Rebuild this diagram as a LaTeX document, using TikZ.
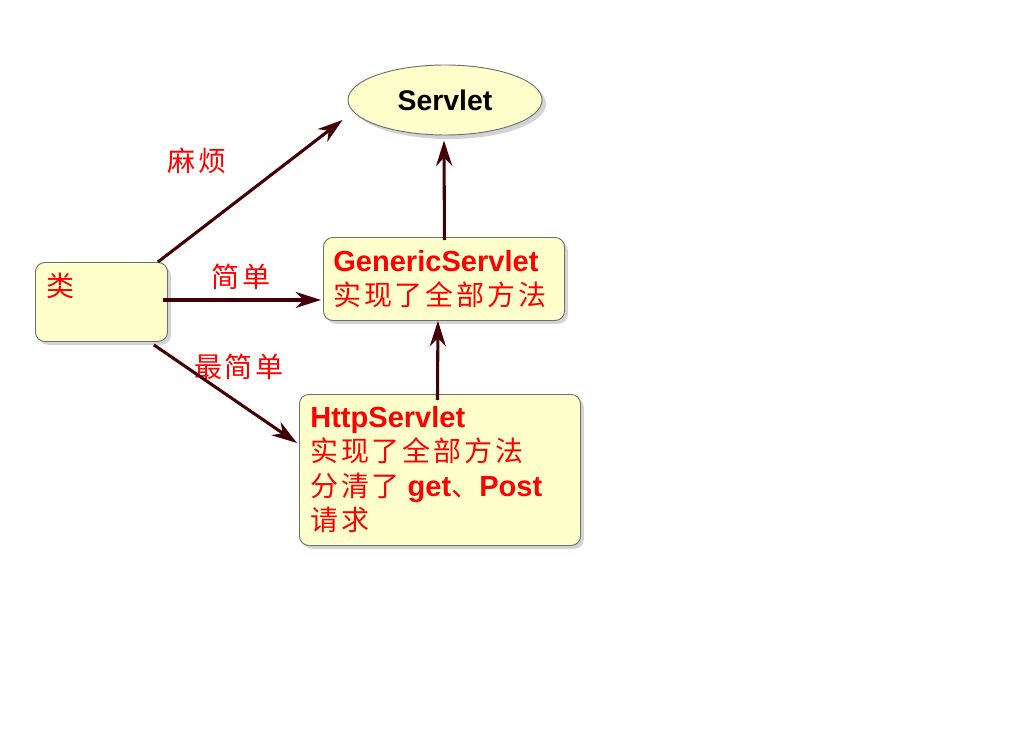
\documentclass[tikz,border=0pt]{standalone}
\usepackage{fontspec}
\setmainfont{Liberation Sans}
\newfontfamily\cjk[LetterSpace=10]{Noto Sans CJK SC}
\usetikzlibrary{arrows.meta,shapes.geometric,shadows,calc}
\definecolor{boxfill}{HTML}{FFFFCC}
\definecolor{boxline}{HTML}{6E6E6E}
\definecolor{arr}{HTML}{420006}
\definecolor{txtred}{HTML}{FF0000}
\newcommand{\lat}[1]{{\fontsize{21.8}{25.8}\selectfont\bfseries #1}}
\tikzset{
  ybox/.style={draw=boxline, line width=0.7pt, fill=boxfill, rounded corners=7pt,
    anchor=north west, inner sep=0pt,
    drop shadow={shadow xshift=2.5pt, shadow yshift=-2.5pt, opacity=0.35, fill=gray}},
  yell/.style={ellipse, draw=boxline, line width=0.7pt, fill=boxfill, inner sep=0pt,
    drop shadow={shadow xshift=3pt, shadow yshift=-3pt, opacity=0.35, fill=gray}},
  conn/.style={draw=arr, line width=2.3pt, -{Stealth[length=19pt,width=12pt,inset=6pt]}},
  boxtext/.style={anchor=north west, inner sep=0pt, align=left, text=txtred,
    font=\fontsize{21}{25.8}\selectfont},
  lbl/.style={text=txtred, inner sep=0pt, font=\fontsize{21}{24}\selectfont\cjk},
}
\begin{document}
\begin{tikzpicture}[x=0.75pt,y=-0.75pt]
\useasboundingbox (0,0) rectangle (1024,738);
% boxes
\node[yell, minimum width=194*0.75pt, minimum height=70*0.75pt] (servlet) at (445,100)
  {\fontsize{21.3}{24}\selectfont\bfseries Servlet};
\node[ybox, minimum width=132*0.75pt, minimum height=79*0.75pt] (cls) at (35,262) {};
\node[ybox, minimum width=241*0.75pt, minimum height=83*0.75pt] (gen) at (323,237) {};
\node[ybox, minimum width=281*0.75pt, minimum height=151*0.75pt] (http) at (299,394) {};
% texts
\node[boxtext] (clst) at (46,273) {\cjk 类};
\node[boxtext] (gent) at (333,250) {\lat{GenericServlet}\\{\cjk 实现了全部方法}};
\node[boxtext] (httpt) at (310,406) {\lat{HttpServlet}\\{\cjk 实现了全部方法}\\{\cjk 分清了} \lat{get}{\cjk 、}\lat{Post}\\{\cjk 请求}};
% labels
\node[lbl] (l1) at (197,161) {麻烦};
\node[lbl] (l2) at (241,277) {简单};
\node[lbl] (l3) at (239,367) {最简单};
% connectors
\draw[conn] ($(cls.north east)+(-10,0)$) -- ($(servlet.west)+(-5,20)$);
\draw[conn] ($(cls.east)+(-5,-2)$) -- ($(gen.west)+(-2,21)$);
\draw[conn] ($(cls.south east)+(-14,3)$) -- ($(http.west)+(-2,-27)$);
\draw[conn] ($(gen.north)+(0.5,3)$) -- ($(servlet.south)+(-1,5)$);
\draw[conn] ($(http.north)+(-2.5,6)$) -- ($(gen.south)+(-6,0)$);
\end{tikzpicture}
\end{document}
